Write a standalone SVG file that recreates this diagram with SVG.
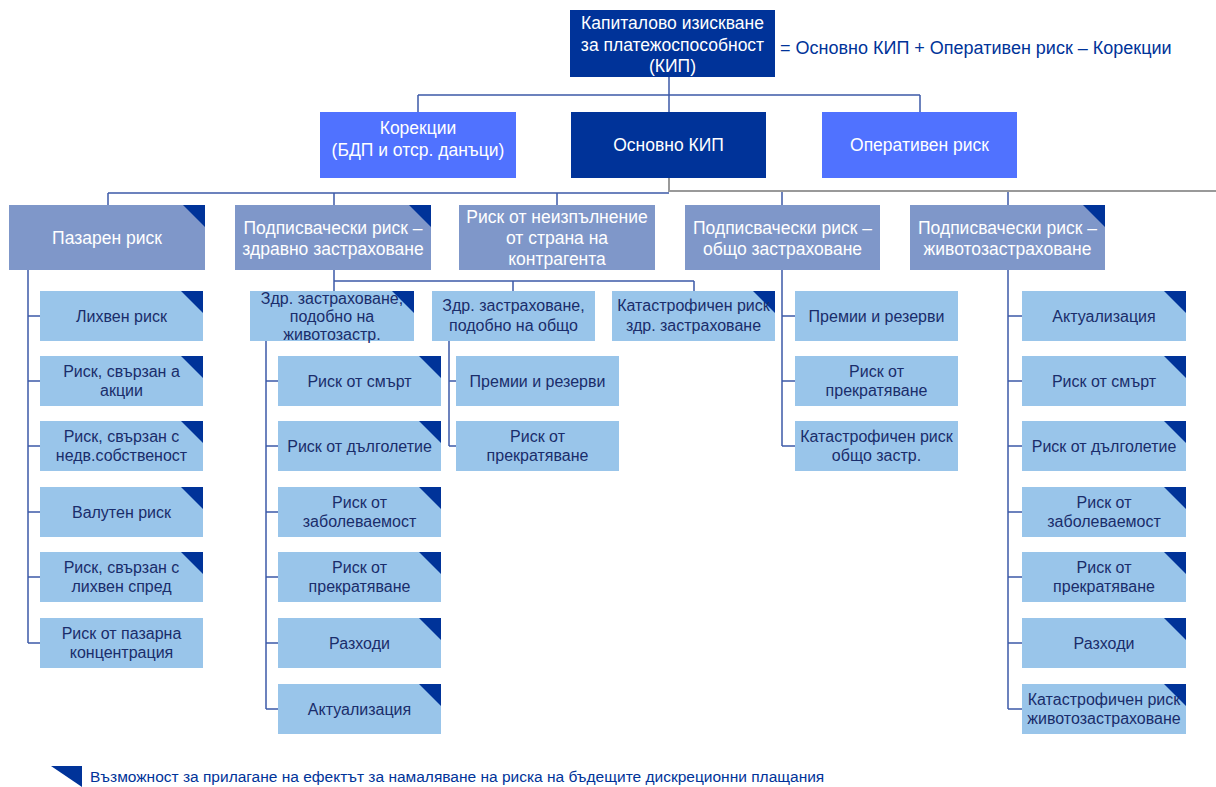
<svg xmlns="http://www.w3.org/2000/svg" width="1216" height="787" viewBox="0 0 1216 787">
<style>
text{font-family:"Liberation Sans",Arial,sans-serif;text-anchor:middle}
.dark{fill:#003399}
.bright{fill:#5072FF}
.cat{fill:#7F97C9}
.leaf{fill:#99C5EA}
.tri{fill:#003399}
.tw{fill:#ffffff;font-size:17.5px}
.tl{fill:#1A2D6B;font-size:16px}
.ln{stroke:#3D5AA8;stroke-width:1.5;fill:none}
.gl{stroke:#999999;stroke-width:2;fill:none}
</style>
<defs>
<polygon id="corner" points="-22,0 0,0 0,22" class="tri"/>
</defs>
<rect width="1216" height="787" fill="#ffffff"/>
<g id="connectors">
<path class="ln" d="M669,77V95M418,95H920M418,95V112M669,95V112M920,95V112"/>
<path class="gl" d="M669,178V191H1216"/>
<path class="ln" d="M108,193H669M108,193V205M334,193V205M557,193V205M782,192V205M1008,192V205"/>
<path class="ln" d="M28,270V643M28,316H40M28,381H40M28,446H40M28,512H40M28,577H40M28,643H40"/>
<path class="ln" d="M334,270V291M334,281H694M513,281V291M694,281V291"/>
<path class="ln" d="M266,341V709M266,381H278M266,446H278M266,512H278M266,577H278M266,643H278M266,709H278"/>
<path class="ln" d="M449,341V446M449,381H456M449,446H456"/>
<path class="ln" d="M782,270V446M782,316H795M782,381H795M782,446H795"/>
<path class="ln" d="M1008,270V709M1008,316H1022M1008,381H1022M1008,446H1022M1008,512H1022M1008,577H1022M1008,643H1022M1008,709H1022"/>
</g>
<g id="kip"><rect class="dark" x="570" y="10" width="205" height="67"/><text class="tw" x="672.5" y="28.5">Капиталово  изискване</text><text class="tw" x="672.5" y="50.5">за платежоспособност</text><text class="tw" x="672.5" y="72">(КИП)</text></g>
<g id="formula"><text x="780" y="53.5" style="text-anchor:start;font-size:18px;fill:#003399">= Основно КИП + Оперативен риск  – Корекции</text></g>
<g id="korekcii"><rect class="bright" x="320" y="112" width="196" height="66"/><text class="tw" x="418" y="134">Корекции</text><text class="tw" x="418" y="156">(БДП и отср. данъци)</text></g>
<g id="osnovno"><rect class="dark" x="571" y="112" width="195" height="66"/><text class="tw" x="668.5" y="151">Основно КИП</text></g>
<g id="operativen"><rect class="bright" x="822" y="112" width="195" height="66"/><text class="tw" x="919.5" y="151">Оперативен риск</text></g>
<g id="pazaren"><rect class="cat" x="9" y="205" width="196" height="65"/><use href="#corner" x="205" y="205"/><text class="tw" x="107" y="244">Пазарен риск</text></g>
<g id="zdravno"><rect class="cat" x="235" y="205" width="196" height="65"/><use href="#corner" x="431" y="205"/><text class="tw" x="333" y="234">Подписвачески риск –</text><text class="tw" x="333" y="255">здравно застраховане</text></g>
<g id="kontragent"><rect class="cat" x="459" y="205" width="196" height="65"/><text class="tw" x="557" y="222.5">Риск от неизпълнение</text><text class="tw" x="557" y="243.5">от страна на</text><text class="tw" x="557" y="264.5">контрагента</text></g>
<g id="obshto"><rect class="cat" x="685" y="205" width="195" height="65"/><text class="tw" x="782.5" y="234">Подписвачески риск –</text><text class="tw" x="782.5" y="255">общо застраховане</text></g>
<g id="zhivot"><rect class="cat" x="910" y="205" width="195" height="65"/><use href="#corner" x="1105" y="205"/><text class="tw" x="1007.5" y="234">Подписвачески риск –</text><text class="tw" x="1007.5" y="255">животозастраховане</text></g>
<g id="p1"><rect class="leaf" x="40" y="291" width="163" height="50"/><use href="#corner" x="203" y="291"/><text class="tl" x="121.5" y="321.5">Лихвен  риск</text></g>
<g id="p2"><rect class="leaf" x="40" y="356" width="163" height="50"/><use href="#corner" x="203" y="356"/><text class="tl" x="121.5" y="376.5">Риск, свързан а</text><text class="tl" x="121.5" y="395.5">акции</text></g>
<g id="p3"><rect class="leaf" x="40" y="421" width="163" height="50"/><use href="#corner" x="203" y="421"/><text class="tl" x="121.5" y="441.5">Риск, свързан с</text><text class="tl" x="121.5" y="460.5">недв.собственост</text></g>
<g id="p4"><rect class="leaf" x="40" y="487" width="163" height="50"/><use href="#corner" x="203" y="487"/><text class="tl" x="121.5" y="517.5">Валутен риск</text></g>
<g id="p5"><rect class="leaf" x="40" y="552" width="163" height="50"/><use href="#corner" x="203" y="552"/><text class="tl" x="121.5" y="572.5">Риск, свързан с</text><text class="tl" x="121.5" y="591.5">лихвен спред</text></g>
<g id="p6"><rect class="leaf" x="40" y="618" width="163" height="50"/><text class="tl" x="121.5" y="638.5">Риск от пазарна</text><text class="tl" x="121.5" y="657.5">концентрация</text></g>
<g id="zA"><rect class="leaf" x="250" y="291" width="164" height="50"/><use href="#corner" x="414" y="291"/><text class="tl" x="332" y="304">Здр. застраховане,</text><text class="tl" x="332" y="322">подобно на</text><text class="tl" x="332" y="340">животозастр.</text></g>
<g id="zB"><rect class="leaf" x="432" y="291" width="163" height="50"/><text class="tl" x="513.5" y="311">Здр. застраховане,</text><text class="tl" x="513.5" y="331">подобно на общо</text></g>
<g id="zC"><rect class="leaf" x="612" y="291" width="163" height="50"/><use href="#corner" x="775" y="291"/><text class="tl" x="693.5" y="311">Катастрофичен риск</text><text class="tl" x="693.5" y="331">здр. застраховане</text></g>
<g id="a1"><rect class="leaf" x="278" y="356" width="163" height="50"/><use href="#corner" x="441" y="356"/><text class="tl" x="359.5" y="386.5">Риск от смърт</text></g>
<g id="a2"><rect class="leaf" x="278" y="421" width="163" height="50"/><use href="#corner" x="441" y="421"/><text class="tl" x="359.5" y="451.5">Риск от дълголетие</text></g>
<g id="a3"><rect class="leaf" x="278" y="487" width="163" height="50"/><use href="#corner" x="441" y="487"/><text class="tl" x="359.5" y="507.5">Риск от</text><text class="tl" x="359.5" y="526.5">заболеваемост</text></g>
<g id="a4"><rect class="leaf" x="278" y="552" width="163" height="50"/><use href="#corner" x="441" y="552"/><text class="tl" x="359.5" y="572.5">Риск от</text><text class="tl" x="359.5" y="591.5">прекратяване</text></g>
<g id="a5"><rect class="leaf" x="278" y="618" width="163" height="50"/><use href="#corner" x="441" y="618"/><text class="tl" x="359.5" y="648.5">Разходи</text></g>
<g id="a6"><rect class="leaf" x="278" y="684" width="163" height="50"/><use href="#corner" x="441" y="684"/><text class="tl" x="359.5" y="714.5">Актуализация</text></g>
<g id="b1"><rect class="leaf" x="456" y="356" width="163" height="50"/><text class="tl" x="537.5" y="386.5">Премии  и резерви</text></g>
<g id="b2"><rect class="leaf" x="456" y="421" width="163" height="50"/><text class="tl" x="537.5" y="441.5">Риск от</text><text class="tl" x="537.5" y="460.5">прекратяване</text></g>
<g id="o1"><rect class="leaf" x="795" y="291" width="163" height="50"/><text class="tl" x="876.5" y="321.5">Премии  и резерви</text></g>
<g id="o2"><rect class="leaf" x="795" y="356" width="163" height="50"/><text class="tl" x="876.5" y="376.5">Риск от</text><text class="tl" x="876.5" y="395.5">прекратяване</text></g>
<g id="o3"><rect class="leaf" x="795" y="421" width="163" height="50"/><text class="tl" x="876.5" y="441.5">Катастрофичен риск</text><text class="tl" x="876.5" y="460.5">общо застр.</text></g>
<g id="l1"><rect class="leaf" x="1022" y="291" width="164" height="50"/><use href="#corner" x="1186" y="291"/><text class="tl" x="1104" y="321.5">Актуализация</text></g>
<g id="l2"><rect class="leaf" x="1022" y="356" width="164" height="50"/><use href="#corner" x="1186" y="356"/><text class="tl" x="1104" y="386.5">Риск от смърт</text></g>
<g id="l3"><rect class="leaf" x="1022" y="421" width="164" height="50"/><use href="#corner" x="1186" y="421"/><text class="tl" x="1104" y="451.5">Риск от дълголетие</text></g>
<g id="l4"><rect class="leaf" x="1022" y="487" width="164" height="50"/><use href="#corner" x="1186" y="487"/><text class="tl" x="1104" y="507.5">Риск от</text><text class="tl" x="1104" y="526.5">заболеваемост</text></g>
<g id="l5"><rect class="leaf" x="1022" y="552" width="164" height="50"/><use href="#corner" x="1186" y="552"/><text class="tl" x="1104" y="572.5">Риск от</text><text class="tl" x="1104" y="591.5">прекратяване</text></g>
<g id="l6"><rect class="leaf" x="1022" y="618" width="164" height="50"/><use href="#corner" x="1186" y="618"/><text class="tl" x="1104" y="648.5">Разходи</text></g>
<g id="l7"><rect class="leaf" x="1022" y="684" width="164" height="50"/><use href="#corner" x="1186" y="684"/><text class="tl" x="1104" y="704.5">Катастрофичен риск</text><text class="tl" x="1104" y="723.5">животозастраховане</text></g>
<g id="legend"><polygon class="tri" points="51,766 82,766 82,787"/><text x="90" y="782" style="text-anchor:start;font-size:15.5px;fill:#003399">Възможност за прилагане на ефектът за намаляване на риска на бъдещите дискреционни плащания</text></g>
</svg>
